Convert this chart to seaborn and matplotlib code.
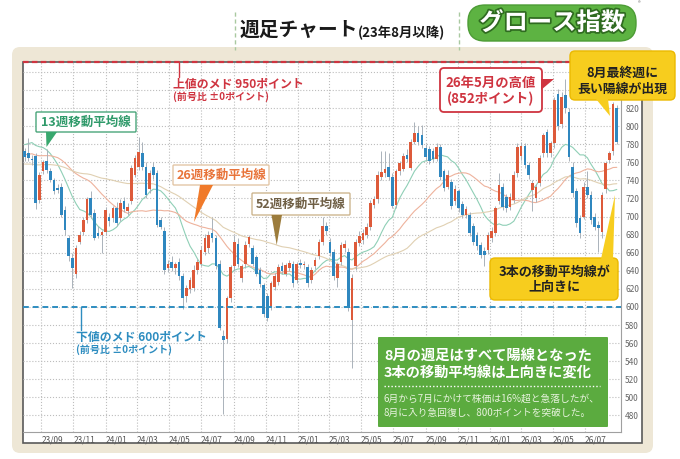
import matplotlib
matplotlib.use('Agg')
import matplotlib.pyplot as plt
import matplotlib.dates as mdates
import matplotlib.patheffects as pe
from matplotlib.patches import FancyBboxPatch, Polygon
from matplotlib.lines import Line2D
from matplotlib.transforms import IdentityTransform
import seaborn as sns
import pandas as pd
import numpy as np


# weekly candles, Aug 2023 - Aug 2026
#==============================================================================
first_week = '2023-07-31'

opens = [772, 770, 764, 767, 718, 750, 762, 750, 740, 732,
         733, 707, 676, 654, 637, 672, 683, 696, 720, 704,
         682, 680, 683, 699, 698, 709, 698, 717, 706, 717,
         746, 755, 770, 755, 730, 755, 748, 696, 684, 643,
         650, 643, 650, 634, 612, 620, 621, 641, 648, 661,
         665, 682, 676, 648, 568, 565, 610, 645, 670, 632,
         647, 670, 665, 655, 641, 624, 612, 600, 622, 628,
         645, 637, 643, 648, 630, 649, 646, 644, 630, 645,
         656, 672, 690, 672, 661, 632, 650, 665, 661, 586,
         645, 671, 674, 680, 689, 713, 719, 744, 748, 755,
         744, 713, 750, 753, 768, 754, 783, 793, 790, 776,
         775, 772, 764, 777, 750, 733, 738, 717, 728, 714,
         702, 702, 690, 680, 669, 662, 663, 676, 682, 717,
         733, 722, 711, 718, 748, 767, 778, 757, 729, 720,
         737, 770, 794, 770, 781, 836, 802, 835, 816, 755,
         728, 698, 700, 733, 724, 700, 691, 683, 730, 763,
         772, 820]

highs = [776, 787, 768, 770, 749, 763, 775, 754, 743, 736,
         737, 712, 680, 660, 668, 684, 700, 722, 728, 708,
         690, 685, 711, 704, 712, 716, 719, 722, 715, 757,
         768, 788, 782, 760, 752, 760, 752, 700, 688, 652,
         656, 650, 654, 638, 624, 633, 646, 653, 667, 681,
         684, 698, 680, 652, 575, 612, 646, 680, 676, 648,
         673, 680, 668, 658, 644, 627, 615, 629, 638, 647,
         650, 649, 652, 651, 650, 653, 651, 647, 644, 655,
         675, 700, 694, 676, 664, 650, 672, 674, 665, 636,
         675, 684, 686, 693, 718, 723, 750, 772, 772, 770,
         748, 753, 762, 770, 775, 786, 805, 800, 801, 780,
         778, 776, 781, 780, 753, 752, 742, 735, 731, 717,
         712, 705, 693, 683, 672, 666, 683, 688, 712, 748,
         737, 725, 726, 750, 781, 782, 781, 760, 740, 736,
         768, 793, 797, 784, 832, 841, 838, 852, 820, 760,
         732, 702, 738, 750, 728, 704, 695, 727, 762, 773,
         827, 823]

lows = [762, 762, 757, 708, 715, 747, 748, 738, 725, 726,
        700, 680, 651, 621, 632, 670, 680, 693, 698, 674,
        676, 660, 680, 690, 694, 690, 695, 705, 702, 714,
        744, 752, 752, 720, 726, 742, 688, 686, 637, 639,
        640, 637, 630, 598, 606, 615, 618, 636, 645, 657,
        660, 672, 642, 575, 482, 560, 606, 640, 644, 628,
        643, 666, 645, 634, 622, 589, 585, 597, 619, 624,
        637, 634, 640, 622, 627, 643, 642, 622, 626, 642,
        653, 669, 680, 656, 630, 622, 646, 661, 596, 532,
        641, 667, 670, 676, 685, 709, 715, 740, 744, 741,
        709, 710, 746, 750, 760, 751, 780, 779, 776, 763,
        758, 760, 761, 741, 728, 730, 708, 713, 705, 698,
        698, 678, 668, 663, 654, 645, 659, 672, 679, 714,
        707, 705, 707, 715, 744, 763, 754, 742, 706, 716,
        734, 766, 766, 766, 776, 796, 798, 815, 762, 722,
        688, 676, 697, 720, 692, 685, 661, 676, 726, 759,
        768, 780]

closes = [766, 765, 763, 715, 746, 760, 751, 741, 728, 729,
          702, 685, 656, 643, 665, 680, 696, 719, 702, 676,
          679, 683, 707, 695, 709, 693, 715, 708, 711, 754,
          765, 771, 755, 724, 748, 746, 691, 689, 641, 648,
          643, 648, 634, 610, 621, 630, 641, 650, 663, 676,
          680, 676, 645, 577, 564, 610, 644, 672, 648, 645,
          669, 677, 648, 637, 625, 592, 588, 626, 634, 644,
          640, 646, 649, 626, 647, 646, 648, 626, 641, 652,
          672, 690, 684, 660, 634, 648, 668, 670, 599, 632,
          672, 678, 682, 689, 715, 719, 746, 749, 753, 744,
          712, 750, 759, 767, 764, 783, 792, 783, 779, 766,
          762, 764, 777, 744, 732, 746, 712, 731, 709, 702,
          708, 682, 672, 667, 658, 658, 680, 684, 709, 735,
          711, 709, 722, 746, 777, 778, 757, 746, 737, 733,
          765, 790, 770, 781, 829, 800, 832, 820, 766, 726,
          693, 682, 733, 724, 696, 689, 687, 724, 759, 770,
          824, 783]

# closes of the year before the window (not drawn, they only seed the averages)
pre_closes = [770, 762, 755, 748, 752, 745, 740, 748, 756, 760, 752, 746,
              738, 742, 735, 728, 733, 740, 747, 752, 745, 738, 744, 750, 756,
              760, 752, 748, 755, 762, 758, 750, 744, 752, 760, 768, 772, 765, 758,
              750, 748, 756, 764, 772, 785, 795, 802, 810, 806, 798, 782]

ma_weeks = [13, 26, 52]
ma_colors = ['#8fcfb6', '#eeb29c', '#e0d0b2']
y_ticks = list(range(480, 861, 20))
y_label_max = 820      # ticks above this sit under the callout, no label
upper_target = 950     # drawn on the top edge (off scale)
lower_target = 600


# style
#==============================================================================
sns.set_style('white')
plt.rcParams['font.family'] = ['Noto Sans CJK JP', 'DejaVu Sans']

W, H = 680, 459
fig = plt.figure(figsize=(W / 100, H / 100), dpi=100)
fig.patch.set_facecolor('white')
PIX = IdentityTransform()


def rbox(x0, y0, x1, y1, fc, ec='none', lw=1.0, r=3, z=1):
    p = FancyBboxPatch((x0, H - y1), x1 - x0, y1 - y0,
                       boxstyle='round,pad=0,rounding_size={}'.format(r),
                       fc=fc, ec=ec, lw=lw, transform=PIX, zorder=z)
    fig.add_artist(p)


def tri(points, color, z=6):
    fig.add_artist(Polygon([(x, H - y) for x, y in points], closed=True,
                           fc=color, ec='none', transform=PIX, zorder=z))


def line(xs, ys, color, lw=1.0, ls='-', z=6):
    fig.add_artist(Line2D(xs, [H - y for y in ys], color=color, lw=lw, ls=ls,
                          transform=PIX, zorder=z))


def txt(x, y, s, size, color='#222222', weight='bold', ha='left', z=7, **kw):
    fig.text(x / W, 1 - y / H, s, fontsize=size, color=color, fontweight=weight,
             ha=ha, va='center', zorder=z, **kw)


# panel and frame
rbox(12, 47, 653, 453, '#eee7d6', r=8, z=-3)
rbox(23, 62, 642, 443, 'white', ec='#5a5a5a', lw=1.2, r=0, z=-2)

ax = fig.add_axes([23 / W, 1 - 431.7 / H, (621 - 23) / W, (431.7 - 62) / H])
ax.set_facecolor('none')

# data
#==============================================================================
dates = pd.date_range(first_week, periods=len(closes), freq='7D')
xd = mdates.date2num(dates.to_pydatetime())
o = np.array(opens, float)
h = np.array(highs, float)
l = np.array(lows, float)
c = np.array(closes, float)

all_close = pd.Series(pre_closes + closes, dtype=float)
for w, col in zip(ma_weeks, ma_colors):
    ma = all_close.rolling(w).mean().iloc[len(pre_closes):].values
    sns.lineplot(x=xd, y=ma, ax=ax, color=col, lw=0.8, zorder=2)

up = c >= o
ax.vlines(xd, l, h, color='#aab2ba', lw=0.7, zorder=3)
ax.bar(xd[up], np.maximum(c - o, 1.2)[up], bottom=o[up], width=5.0,
       color='#dd5a3a', lw=0, zorder=4)
ax.bar(xd[~up], np.maximum(o - c, 1.2)[~up], bottom=c[~up], width=5.0,
       color='#2f87bf', lw=0, zorder=4)

# target lines
y_top = 871
ax.axhline(lower_target, color='#2e8dc0', lw=1.4, ls=(0, (3, 2)), zorder=5)
ax.axhline(y_top, color='#cf3440', lw=1.6, ls=(0, (2.5, 1.5)), zorder=5, clip_on=False)

# axes
ax.set_xlim(xd[0] - 3, xd[-1] + 8)
ax.set_ylim(462, y_top)
tick_dates = pd.date_range('2023-09-01', '2026-07-01', freq='2MS')
ax.set_xticks(mdates.date2num(tick_dates.to_pydatetime()))
ax.set_xticklabels([d.strftime('%y/%m') for d in tick_dates], ha='left')
ax.set_yticks(y_ticks)
ax.set_yticklabels([str(v) if v <= y_label_max else '' for v in y_ticks])
ax.yaxis.tick_right()
ax.tick_params(axis='x', length=0, pad=2.5, labelsize=6, labelcolor='#555555')
ax.tick_params(axis='y', length=0, pad=3, labelsize=6, labelcolor='#666666')
ax.grid(True, ls=':', lw=0.8, color='#bdbdbd')
ax.set_axisbelow(True)
for side in ['left', 'top']:
    ax.spines[side].set_visible(False)
for side in ['right', 'bottom']:
    ax.spines[side].set_color('#a0a0a0')
    ax.spines[side].set_linewidth(0.8)
ax.set_xlabel('')
ax.set_ylabel('')

# header
#==============================================================================
line([235, 235], [12, 50], '#a9c9a0', lw=1, ls=(0, (3, 2)))
line([459, 459], [12, 50], '#a9c9a0', lw=1, ls=(0, (3, 2)))
txt(240, 30, '週足チャート', 14.2, color='#1a1a1a')
txt(358, 33, '(23年8月以降)', 9.6, color='#1a1a1a')
rbox(468, 5, 636, 41, '#5db342', ec='#4c9c35', lw=1, r=17, z=1)
txt(552, 23, 'グロース指数', 17.5, color='white', ha='center',
    path_effects=[pe.withStroke(linewidth=2.5, foreground='#2f6b20')])
txt(638, 4, '®', 4, color='#555555', weight='normal')

# target annotations
line([179, 179], [62, 77], '#cf3440', lw=1)
txt(173, 85, '上値のメド 950ポイント', 8.6, color='#cf3440')
txt(173, 97, '(前号比 ±0ポイント)', 7.2, color='#cf3440')
line([81, 81], [307, 330], '#2e8dc0', lw=1)
txt(76, 338, '下値のメド 600ポイント', 8.6, color='#2e8dc0')
txt(76, 350, '(前号比 ±0ポイント)', 7.2, color='#2e8dc0')

# moving average labels
rbox(36, 112, 136, 132, 'white', ec='#4aa57a', lw=1, r=1, z=5)
txt(86, 122, '13週移動平均線', 9, color='#2f9a6a', ha='center')
tri([(46, 132), (57, 132), (46.5, 147)], '#38a86e')
rbox(173, 165, 269, 185, 'white', ec='#e3c6a6', lw=1, r=1, z=5)
txt(221, 175, '26週移動平均線', 9, color='#e8743a', ha='center')
tri([(200, 185), (213, 185), (194, 222)], '#f07a2a')
rbox(252, 193, 350, 215, 'white', ec='#cdb690', lw=1, r=1, z=5)
txt(301, 204, '52週移動平均線', 9, color='#6f5f45', ha='center')
tri([(271.5, 215), (282, 215), (276.7, 245)], '#9c7c3c')

# callouts
rbox(440, 68, 542, 112, 'white', ec='#cf3440', lw=1.3, r=4, z=5)
txt(491, 83, '26年5月の高値', 9.6, color='#cf3440', ha='center')
txt(491, 99, '(852ポイント)', 9.6, color='#cf3440', ha='center')
tri([(541, 79), (541, 90), (554, 79)], '#cf3440')

rbox(570, 51, 675, 100, '#f7cd1e', ec='#ebb900', lw=1, r=5, z=5)
tri([(596, 99), (608, 99), (610, 116)], '#f7cd1e')
txt(622, 73, '8月最終週に', 9.3, ha='center')
txt(622, 89, '長い陽線が出現', 9.3, ha='center')

rbox(490, 258, 618, 300, '#f7cd1e', ec='#ebb900', lw=1, r=5, z=5)
tri([(601, 259), (613, 259), (615, 195)], '#f7cd1e')
txt(554, 272, '3本の移動平均線が', 9.4, ha='center')
txt(554, 287, '上向きに', 9.4, ha='center')

rbox(378, 337, 608, 427, '#5bab3f', r=1, z=5)
txt(384, 356, '8月の週足はすべて陽線となった', 10.3, color='white')
txt(384, 373, '3本の移動平均線は上向きに変化', 10.3, color='white')
line([384, 600], [386, 386], 'white', lw=1, ls=(0, (1, 1.5)))
txt(384, 399, '6月から7月にかけて株価は16%超と急落したが、', 7, color='#e8f3de', weight='normal')
txt(384, 413, '8月に入り急回復し、800ポイントを突破した。', 7, color='#e8f3de', weight='normal')

fig.savefig('out.png', dpi=100)
plt.close()
